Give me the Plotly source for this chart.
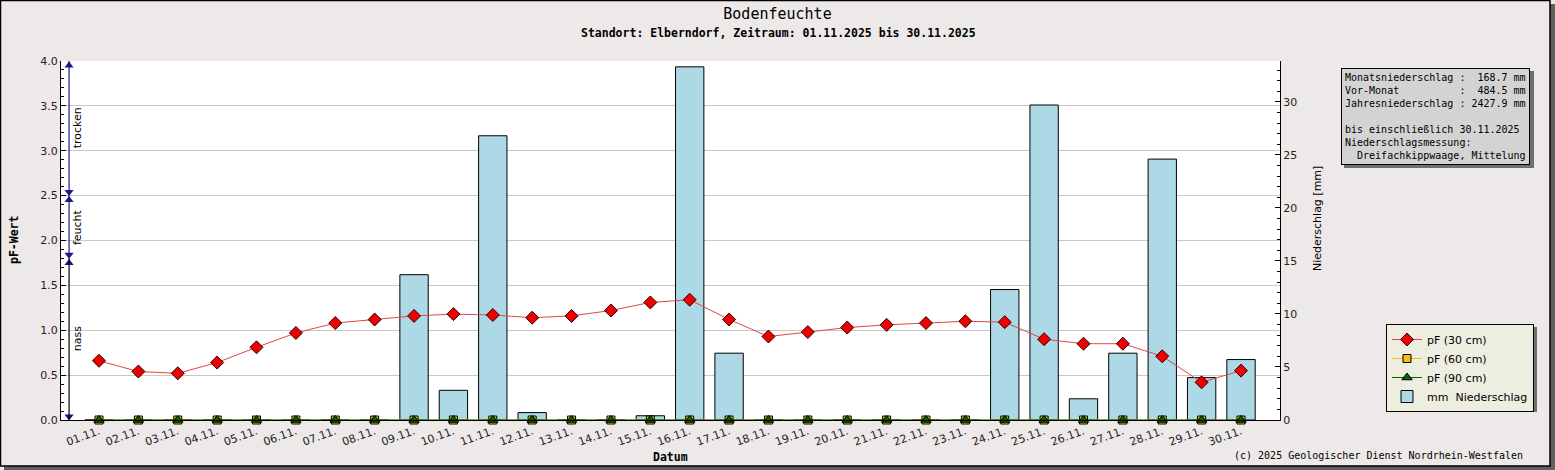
import plotly.graph_objects as go

# === Daten ===
tage = ["01.11.", "02.11.", "03.11.", "04.11.", "05.11.", "06.11.", "07.11.", "08.11.",
        "09.11.", "10.11.", "11.11.", "12.11.", "13.11.", "14.11.", "15.11.", "16.11.",
        "17.11.", "18.11.", "19.11.", "20.11.", "21.11.", "22.11.", "23.11.", "24.11.",
        "25.11.", "26.11.", "27.11.", "28.11.", "29.11.", "30.11."]
tag_nr = list(range(1, len(tage) + 1))

niederschlag = [0, 0, 0, 0, 0, 0, 0, 0, 13.7, 2.8, 26.8, 0.7, 0, 0, 0.4, 33.3,
                6.3, 0, 0, 0, 0, 0, 0, 12.3, 29.7, 2.0, 6.3, 24.6, 4.0, 5.7]

pf_30 = [0.66, 0.54, 0.52, 0.64, 0.81, 0.97, 1.08, 1.12, 1.16, 1.18, 1.17, 1.14,
         1.16, 1.22, 1.31, 1.34, 1.12, 0.93, 0.98, 1.03, 1.06, 1.08, 1.10, 1.09,
         0.90, 0.85, 0.85, 0.71, 0.42, 0.55]
pf_60 = [0, 0, 0, 0, 0, 0, 0, 0, 0, 0, 0, 0, 0, 0, 0,
         0, 0, 0, 0, 0, 0, 0, 0, 0, 0, 0, 0, 0, 0, 0]
pf_90 = [0, 0, 0, 0, 0, 0, 0, 0, 0, 0, 0, 0, 0, 0, 0,
         0, 0, 0, 0, 0, 0, 0, 0, 0, 0, 0, 0, 0, 0, 0]

# Bodenfeuchte-Bereiche (pF)
zonen = ["nass", "feucht", "trocken"]
zone_von = [0.0, 1.8, 2.5]
zone_bis = [1.8, 2.5, 4.0]
zone_farbe = ["black", "#1a1a8c", "#1a1a8c"]

info_text = ("Monatsniederschlag :  168.7 mm<br>"
             "Vor-Monat          :  484.5 mm<br>"
             "Jahresniederschlag : 2427.9 mm<br>"
             "<br>"
             "bis einschließlich 30.11.2025<br>"
             "Niederschlagsmessung:<br>"
             "  Dreifachkippwaage, Mittelung")

# === Layout-Helfer (Pixel -> Paper) ===
W, H = 1555, 470
L, R, T, B = 61, 1280, 61, 420


def px_x(px):
    return (px - L) / (R - L)


def px_y(py):
    return (B - py) / (B - T)


BG = "#ECE9E8"
MONO = "DejaVu Sans Mono"
SANS = "DejaVu Sans"
x_pfeil = 0.24

fig = go.Figure()

fig.add_trace(go.Bar(
    x=tag_nr, y=niederschlag, yaxis="y", name="mm  Niederschlag",
    marker=dict(color="#ADD8E6", line=dict(color="black", width=1)),
    width=0.72, legendrank=4,
))

fig.add_trace(go.Scatter(
    x=tag_nr, y=pf_60, yaxis="y2", mode="lines+markers", name="pF (60 cm)",
    line=dict(color="#FFB81C", width=1),
    marker=dict(symbol="square", size=8, color="#FFB81C", line=dict(color="black", width=1)),
    cliponaxis=False, legendrank=2,
))
fig.add_trace(go.Scatter(
    x=tag_nr, y=pf_90, yaxis="y2", mode="lines+markers", name="pF (90 cm)",
    line=dict(color="#006400", width=1),
    marker=dict(symbol="triangle-up", size=9, color="#006400", line=dict(color="black", width=1)),
    cliponaxis=False, legendrank=3,
))
fig.add_trace(go.Scatter(
    x=tag_nr, y=pf_30, yaxis="y2", mode="lines+markers", name="pF (30 cm)",
    line=dict(color="#E04848", width=1),
    marker=dict(symbol="diamond", size=10, color="#EE0000", line=dict(color="#300000", width=1)),
    cliponaxis=False, legendrank=1,
))

# Bereichspfeile links
shapes = []
annotations = []
for name, lo, hi, col in zip(zonen, zone_von, zone_bis, zone_farbe):
    shapes.append(dict(type="line", xref="x", yref="y2", x0=x_pfeil, x1=x_pfeil,
                       y0=lo, y1=hi, line=dict(color=col, width=1.2)))
    fig.add_trace(go.Scatter(
        x=[x_pfeil, x_pfeil], y=[lo + 0.04, hi - 0.05], yaxis="y2", mode="markers",
        marker=dict(symbol=["triangle-down", "triangle-up"], size=8, color="#1a1a8c"),
        showlegend=False, hoverinfo="skip", cliponaxis=False,
    ))
    annotations.append(dict(
        xref="paper", yref="y2", x=px_x(77), y=(lo + hi) / 2, text=name,
        xanchor="center", yanchor="middle",
        textangle=-90, showarrow=False, font=dict(family=SANS, size=11, color="black"),
    ))

# Rahmen mit Schatten
shapes += [
    dict(type="rect", xref="paper", yref="paper", x0=px_x(1550), x1=px_x(1556),
         y0=px_y(4), y1=px_y(471), fillcolor="#606060", line=dict(width=0), layer="below"),
    dict(type="rect", xref="paper", yref="paper", x0=px_x(4), x1=px_x(1556),
         y0=px_y(466), y1=px_y(471), fillcolor="#606060", line=dict(width=0), layer="below"),
    dict(type="rect", xref="paper", yref="paper", x0=px_x(0.5), x1=px_x(1550),
         y0=px_y(0.5), y1=px_y(466), line=dict(color="black", width=1.5), layer="below"),
    # Schatten Infobox
    dict(type="rect", xref="paper", yref="paper", x0=px_x(1344), x1=px_x(1534),
         y0=px_y(71), y1=px_y(168), fillcolor="#707070", line=dict(width=0)),
    # Schatten Legende
    dict(type="rect", xref="paper", yref="paper", x0=px_x(1390), x1=px_x(1537),
         y0=px_y(327), y1=px_y(412), fillcolor="#707070", line=dict(width=0)),
]

annotations += [
    dict(xref="paper", yref="paper", x=px_x(778), y=px_y(33), xanchor="center", yanchor="middle",
         text="<b>Standort: Elberndorf, Zeitraum: 01.11.2025 bis 30.11.2025</b>",
         showarrow=False, font=dict(family=MONO, size=11.5, color="black")),
    dict(xref="paper", yref="paper", x=px_x(14), y=px_y(240), xanchor="center", yanchor="middle",
         text="<b>pF-Wert</b>",
         textangle=-90, showarrow=False, font=dict(family=MONO, size=11.5, color="black")),
    dict(xref="paper", yref="paper", x=px_x(1317), y=px_y(219), xanchor="center", yanchor="middle",
         text="Niederschlag [mm]",
         textangle=-90, showarrow=False, font=dict(family=SANS, size=11, color="black")),
    dict(xref="paper", yref="paper", x=px_x(670), y=px_y(457), xanchor="center", yanchor="middle",
         text="<b>Datum</b>",
         showarrow=False, font=dict(family=MONO, size=11.5, color="black")),
    dict(xref="paper", yref="paper", x=px_x(1525), y=px_y(455), xanchor="right", yanchor="middle",
         text="(c) 2025 Geologischer Dienst Nordrhein-Westfalen",
         showarrow=False, font=dict(family=MONO, size=10, color="black")),
    dict(xref="paper", yref="paper", x=px_x(1341), y=px_y(68), xanchor="left", yanchor="top",
         text=info_text, align="left", showarrow=False, bgcolor="#D3D3D3",
         bordercolor="black", borderwidth=1, borderpad=3,
         font=dict(family=MONO, size=10, color="black")),
]

fig.update_layout(
    width=W, height=H,
    margin=dict(l=L, r=W - R, t=T, b=H - B),
    paper_bgcolor=BG, plot_bgcolor="white",
    title=dict(text="Bodenfeuchte", x=0.5, xref="container", y=1 - 14 / H, yanchor="middle",
               font=dict(family=MONO, size=15, color="black")),
    font=dict(family=SANS, size=11, color="#222222"),
    bargap=0.28,
    xaxis=dict(
        range=[0.035, 30.99], tickvals=tag_nr, ticktext=tage, tickangle=-20,
        showgrid=False, zeroline=False, showline=True, linecolor="black", linewidth=1,
        ticks="", tickfont=dict(family=SANS, size=11, color="#222222"),
    ),
    yaxis=dict(
        side="right", range=[0, 33.85], dtick=5, showgrid=False, zeroline=False,
        showline=True, linecolor="black", linewidth=1,
        ticks="inside", ticklen=5, tickcolor="black",
        minor=dict(dtick=1, ticks="inside", ticklen=3, tickcolor="black"),
        tickfont=dict(family=SANS, size=11, color="#222222"),
    ),
    yaxis2=dict(
        overlaying="y", side="left", range=[0, 4], dtick=0.5, tickformat=".1f",
        showgrid=True, gridcolor="#C8C8C8", gridwidth=1, zeroline=False,
        showline=True, linecolor="black", linewidth=1,
        ticks="inside", ticklen=5, tickcolor="black",
        minor=dict(dtick=0.1, ticks="inside", ticklen=3, tickcolor="black", showgrid=False),
        tickfont=dict(family=SANS, size=11, color="#222222"),
    ),
    legend=dict(
        x=px_x(1386), y=px_y(324), xanchor="left", yanchor="top",
        bgcolor="#EDEDE0", bordercolor="black", borderwidth=1,
        font=dict(family=SANS, size=11, color="black"),
        traceorder="normal", itemwidth=30,
    ),
    shapes=shapes,
    annotations=annotations,
    showlegend=True,
)

# Seitenrand des Browsers entfernen, damit die Grafik bei (0,0) beginnt
fig.write_html("out.html", config={"displayModeBar": False},
               post_script="document.body.style.margin='0';")
